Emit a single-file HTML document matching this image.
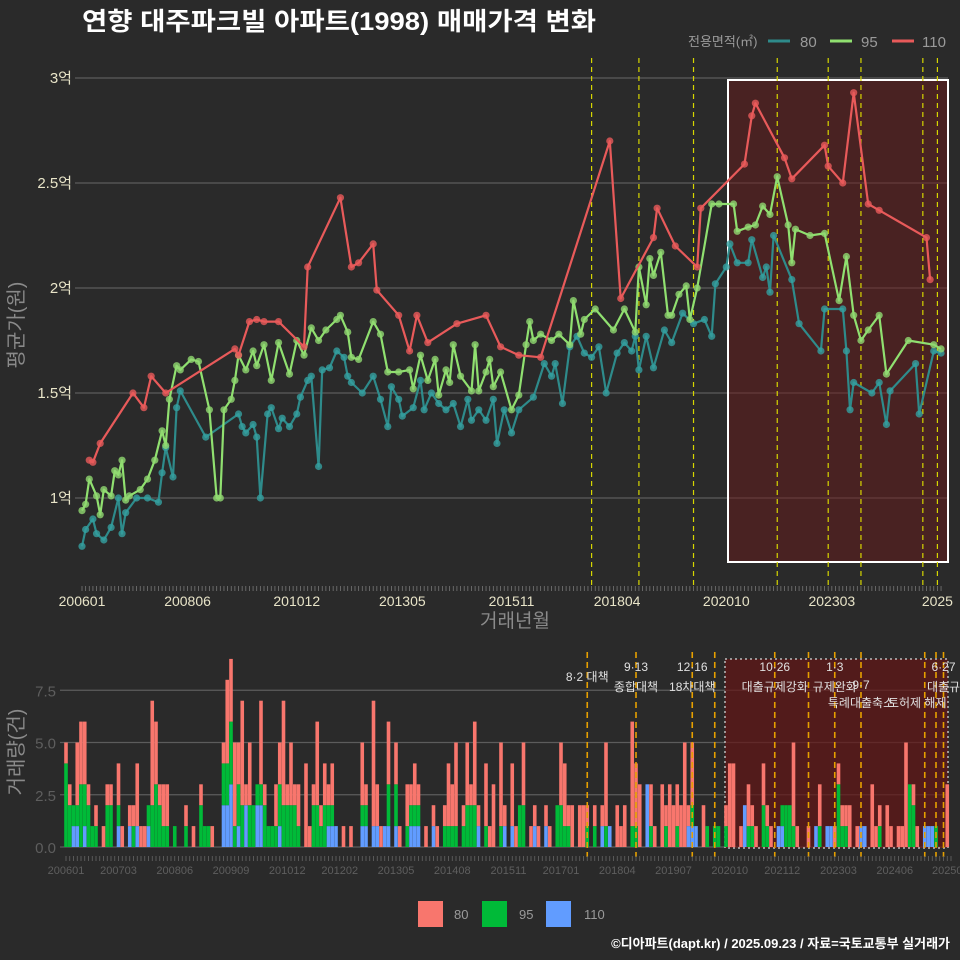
<!DOCTYPE html>
<html><head><meta charset="utf-8"><style>
body{margin:0;background:#2a2a2a;}
svg{display:block;font-family:"Liberation Sans","Noto Sans CJK KR",sans-serif;}
</style></head><body>
<svg id="c" width="960" height="960" viewBox="0 0 960 960">
<rect x="0" y="0" width="960" height="960" fill="#2a2a2a"/>
<text x="82" y="30" fill="#ffffff" font-size="25" font-weight="bold" textLength="514" lengthAdjust="spacingAndGlyphs">연향 대주파크빌 아파트(1998) 매매가격 변화</text>
<g>
<text x="688" y="46" fill="#9a9a9a" font-size="13">전용면적(㎡)</text>
<line x1="768" y1="41" x2="790" y2="41" stroke="#2e8b8b" stroke-width="3"/>
<text x="800" y="47" fill="#9a9a9a" font-size="15">80</text>
<line x1="830" y1="41" x2="852" y2="41" stroke="#90e070" stroke-width="3"/>
<text x="861" y="47" fill="#9a9a9a" font-size="15">95</text>
<line x1="892" y1="41" x2="914" y2="41" stroke="#e85a5a" stroke-width="3"/>
<text x="922" y="47" fill="#9a9a9a" font-size="15">110</text>
</g>
<text transform="translate(23,325) rotate(-90)" text-anchor="middle" fill="#8a8a8a" font-size="20">평균가(원)</text>
<text x="515" y="627" text-anchor="middle" fill="#8a8a8a" font-size="19">거래년월</text>
<text transform="translate(23,752) rotate(-90)" text-anchor="middle" fill="#8a8a8a" font-size="20">거래량(건)</text>
<g>
<rect x="418" y="901" width="25" height="26" fill="#f8766d"/>
<text x="454" y="919" fill="#9a9a9a" font-size="13">80</text>
<rect x="482" y="901" width="25" height="26" fill="#00ba38"/>
<text x="519" y="919" fill="#9a9a9a" font-size="13">95</text>
<rect x="546" y="901" width="25" height="26" fill="#619cff"/>
<text x="584" y="919" fill="#9a9a9a" font-size="13">110</text>
</g>
<text x="950" y="948" text-anchor="end" fill="#ffffff" font-size="13" font-weight="bold">©디아파트(dapt.kr) / 2025.09.23 / 자료=국토교통부 실거래가</text>
<g id="top"></g>
<g id="bot"></g>
</svg>
<script>
// ===== data =====
const priceTicks=[1,1.5,2,2.5,3];
const priceTickLabels=["1억","1.5억","2억","2.5억","3억"];
const volTicks=[0,2.5,5,7.5];
const volTickLabels=["0.0","2.5","5.0","7.5"];
const topXTickMonths=[0,29,59,88,118,147,177,206,235];
const topXTickLabels=["200601","200806","201012","201305","201511","201804","202010","202303","2025"];
const botXTickMonths=[0,14,29,44,59,73,88,103,118,132,147,162,177,191,206,221,235];
const botXTickLabels=["200601","200703","200806","200909","201012","201202","201305","201408","201511","201701","201804","201907","202010","202112","202303","202406","20250"];
const totalMonths=237;
// 80 series
const p80Months=[0,1,3,4,6,8,10,11,12,15,18,21,22,23,25,26,27,34,43,44,45,47,48,49,51,52,54,55,57,59,60,62,63,65,66,68,70,72,73,74,77,80,82,84,85,87,88,91,93,94,96,98,100,102,104,106,107,109,111,113,114,116,118,120,124,127,129,130,132,134,136,138,140,142,144,147,149,151,152,153,155,157,160,162,165,168,171,173,174,177,178,180,183,184,187,188,189,190,195,197,203,204,209,210,211,212,217,219,221,222,229,230,234,236];
const p80Values=[0.77,0.85,0.90,0.83,0.80,0.86,1.00,0.83,0.93,1.00,1.00,0.98,1.12,1.24,1.10,1.43,1.51,1.29,1.40,1.34,1.31,1.35,1.29,1.00,1.40,1.43,1.33,1.38,1.34,1.40,1.48,1.56,1.58,1.15,1.61,1.62,1.70,1.67,1.58,1.55,1.50,1.58,1.47,1.34,1.53,1.47,1.39,1.43,1.56,1.42,1.50,1.45,1.42,1.45,1.34,1.47,1.37,1.42,1.37,1.47,1.26,1.42,1.31,1.42,1.48,1.64,1.58,1.64,1.45,1.72,1.77,1.69,1.67,1.72,1.50,1.69,1.74,1.70,1.77,1.61,1.77,1.62,1.80,1.74,1.88,1.83,1.85,1.77,2.02,2.10,2.21,2.12,2.12,2.23,2.05,2.10,1.98,2.25,2.04,1.83,1.70,1.90,1.90,1.70,1.42,1.55,1.50,1.55,1.35,1.51,1.64,1.40,1.70,1.69];
// 95 series
const p95Months=[0,1,2,4,5,6,8,9,10,11,12,13,16,18,20,22,23,24,26,27,30,32,35,37,38,39,41,42,43,45,47,48,50,52,54,57,59,61,63,65,67,70,71,73,74,76,80,82,84,87,90,91,93,95,97,98,100,101,102,104,107,108,109,111,112,113,115,118,120,122,123,124,126,129,131,134,135,137,138,141,146,149,152,153,155,156,157,159,161,162,164,166,167,169,173,175,179,180,183,185,187,189,191,194,195,196,200,204,208,210,212,214,216,219,221,227,234,236];
const p95Values=[0.94,0.97,1.09,1.01,0.92,1.04,1.01,1.13,1.11,1.18,0.99,1.01,1.04,1.09,1.18,1.32,1.25,1.47,1.63,1.61,1.66,1.65,1.42,1.00,1.00,1.42,1.47,1.56,1.68,1.61,1.70,1.63,1.73,1.56,1.74,1.59,1.75,1.68,1.81,1.75,1.80,1.85,1.87,1.79,1.67,1.66,1.84,1.78,1.60,1.60,1.61,1.52,1.68,1.56,1.66,1.49,1.61,1.55,1.73,1.58,1.51,1.73,1.51,1.60,1.66,1.53,1.60,1.42,1.49,1.73,1.84,1.75,1.78,1.75,1.78,1.73,1.94,1.78,1.85,1.90,1.80,1.90,1.79,2.10,1.92,2.14,2.06,2.17,1.87,1.87,1.97,2.01,1.85,2.00,2.40,2.40,2.40,2.27,2.29,2.30,2.39,2.35,2.53,2.30,2.12,2.28,2.25,2.26,1.94,2.15,1.87,1.75,1.80,1.87,1.59,1.75,1.73,1.71];
// 110 series
const p110Months=[2,3,5,14,17,19,23,42,43,46,48,50,54,61,62,71,74,76,80,81,87,90,92,95,103,111,115,120,126,145,148,157,158,163,169,170,182,184,185,193,195,204,205,209,212,216,219,232,233];
const p110Values=[1.18,1.17,1.26,1.50,1.43,1.58,1.50,1.71,1.68,1.84,1.85,1.84,1.84,1.72,2.10,2.43,2.10,2.12,2.21,1.99,1.87,1.70,1.87,1.74,1.83,1.87,1.72,1.68,1.67,2.70,1.95,2.24,2.38,2.20,2.10,2.38,2.59,2.82,2.88,2.62,2.52,2.68,2.58,2.50,2.93,2.40,2.37,2.24,2.04];
// volumes
const volMonths=[0,1,2,3,4,5,6,7,8,10,11,12,14,15,17,18,19,20,21,22,23,24,25,26,27,29,32,34,36,37,38,39,42,43,44,45,46,47,48,49,50,51,52,53,54,55,56,57,58,59,60,61,62,64,65,66,67,68,69,70,71,72,74,76,79,80,82,83,84,85,86,88,89,91,92,93,94,96,98,99,101,102,103,104,106,107,108,109,110,112,113,114,116,117,119,120,121,122,124,125,126,128,129,131,132,133,134,135,137,138,139,141,143,144,145,147,148,149,151,152,153,155,156,157,159,160,161,162,163,164,165,166,167,168,170,171,173,174,176,177,178,180,181,182,183,184,186,187,188,190,191,192,193,194,195,198,200,201,203,204,205,206,207,208,209,211,212,213,215,216,217,219,220,222,223,224,225,226,227,229,230,231,232,235];
const vol80=[1,1,0,3,3,3,1,0,1,1,1,1,2,1,1,1,3,1,1,0,5,3,1,2,2,0,1,1,1,0,0,1,1,4,3,4,2,5,1,3,0,0,4,1,0,0,2,2,5,1,3,1,2,4,1,1,4,1,2,1,2,0,1,1,3,1,6,2,1,0,3,2,1,2,1,2,1,1,1,1,1,3,2,4,1,3,1,4,1,3,1,3,4,1,3,1,0,3,1,1,1,1,1,0,3,3,1,2,2,2,1,1,1,4,0,2,1,2,5,3,3,0,2,1,3,1,3,2,2,2,5,1,3,0,2,0,0,0,1,4,4,1,0,2,1,1,2,1,1,0,0,0,0,4,1,1,0,2,0,0,1,1,1,1,2,1,0,0,3,1,1,2,1,1,1,5,0,1,1,0,0,0,0,3];
const vol95=[4,2,1,1,3,2,2,1,1,0,2,2,1,0,0,1,0,0,0,1,2,3,2,1,1,1,1,0,2,1,1,0,2,2,3,1,2,2,0,2,2,1,1,2,1,1,1,2,2,2,2,2,1,0,0,2,2,1,2,1,1,0,0,0,1,1,0,0,0,0,2,2,0,1,1,1,1,0,0,0,1,1,1,1,1,2,2,2,0,1,0,0,1,0,0,0,2,2,0,0,0,0,0,2,2,1,1,0,0,0,1,1,0,1,0,0,0,0,1,1,0,0,1,0,0,1,0,0,1,0,0,0,1,0,0,1,1,1,1,0,0,0,0,1,1,0,2,1,0,0,1,2,2,1,0,0,0,1,0,0,0,3,1,1,0,0,0,0,0,0,1,0,0,0,0,0,3,2,0,0,0,0,1,0];
const vol110=[0,0,1,1,0,1,0,0,0,0,0,0,1,0,1,0,1,0,0,1,0,0,0,0,0,0,0,0,0,0,0,0,2,2,3,0,1,0,2,0,0,2,2,0,0,0,0,1,0,0,0,0,0,0,0,0,0,0,0,1,1,1,0,0,1,1,1,1,0,1,1,1,0,0,1,1,1,0,1,0,0,0,0,0,0,0,0,0,1,0,0,0,0,1,1,0,0,0,0,1,0,1,0,0,0,0,0,0,0,0,0,0,1,0,1,0,0,0,0,0,0,3,0,0,0,0,0,0,0,0,0,1,1,1,0,0,0,0,0,0,0,0,2,0,0,0,0,0,0,1,1,0,0,0,0,0,1,0,1,1,0,0,0,0,0,0,1,1,0,0,0,0,0,0,0,0,0,0,0,1,1,1,0,0];
const topPolicyMonths=[140,153,168,191,205,214,231,235];
const botPolicyMonths=[139,152,167,173,189,198,205,212,229,232,234];
const policyLabels=[[139,"8·2 대책",0,681],[152,"9·13",0,671],[152,"종합대책",0,691],[167,"12·16",0,671],[167,"18차대책",0,691],[189,"10·26",0,671],[189,"대출규제강화",0,691],[205,"1·3",0,671],[205,"규제완화",0,691],[212,"9·7",0,689],[212,"특례대출축소",0,707],[227,"토허제 해제",0,707],[234,"6·27",0,671],[234,"대출규",0,691]];

// ===== scales =====
const NS="http://www.w3.org/2000/svg";
const xT=m=>82+m*3.64, yT=v=>498-(v-1)*210;
const xB=m=>66+m*3.75, yB=c=>847-c*20.9;
const gT=document.getElementById('top'), gB=document.getElementById('bot');
function mk(tag,parent,attrs){const e=document.createElementNS(NS,tag);for(const k in attrs)e.setAttribute(k,attrs[k]);parent.appendChild(e);return e;}

priceTicks.forEach((v,i)=>{
 const g=mk('line',gT,{x1:75,x2:948,y1:yT(v),y2:yT(v),stroke:'#5c5c5c','stroke-width':1.2});
 
 
 const t=mk('text',gT,{x:72,y:yT(v)+5,'text-anchor':'end',fill:'#e8e4c8','font-size':15});
 t.textContent=priceTickLabels[i];
 
 
});
const hr=mk('rect',gT,{x:728,y:80,width:220,height:482,fill:'rgba(110,25,25,0.45)',stroke:'#ffffff','stroke-width':2});


topPolicyMonths.forEach(m=>{
 const l=mk('line',gT,{x1:xT(m),x2:xT(m),y1:58,y2:586,stroke:'#d6d600','stroke-width':1.2,'stroke-dasharray':'5,4'});
 
 
});
for(let m=0;m<totalMonths;m++){
 const tk=mk('line',gT,{x1:xT(m),x2:xT(m),y1:586,y2:591,stroke:'#777','stroke-width':0.8});
 
 
}
topXTickMonths.forEach((m,i)=>{
 const t=mk('text',gT,{x:xT(m),y:606,'text-anchor':'middle',fill:'#e8e4c8','font-size':14});
 t.textContent=topXTickLabels[i];
 
 
});
function series(months,vals,lineCol,ptCol,name){
 const d=months.map((m,i)=>(i?'L':'M')+xT(m).toFixed(1)+','+yT(vals[i]).toFixed(1)).join('');
 const p=mk('path',gT,{d:d,fill:'none',stroke:lineCol,'stroke-width':2.2,'stroke-linejoin':'round'});
 
 
 months.forEach((m,i)=>{
  const c=mk('circle',gT,{cx:xT(m),cy:yT(vals[i]),r:3.6,fill:ptCol,'fill-opacity':0.8});
  
  
 });
}
series(p80Months,p80Values,'#2e8b8b','#35a0a0','80');
series(p95Months,p95Values,'#90e070','#90d870','95');
series(p110Months,p110Values,'#e85a5a','#e85a5a','110');

volTicks.forEach((v,i)=>{
 const g=mk('line',gB,{x1:60,x2:948,y1:yB(v),y2:yB(v),stroke:'#5c5c5c','stroke-width':1.2});
 
 
 const t=mk('text',gB,{x:56,y:yB(v)+6,'text-anchor':'end',fill:'#5e5e5e','font-size':15});
 t.textContent=volTickLabels[i];
 
 
});
const br=mk('rect',gB,{x:725,y:659,width:223,height:189,fill:'rgba(100,22,22,0.7)',stroke:'#bbbbbb','stroke-width':1.5,'stroke-dasharray':'2,3'});


volMonths.forEach((m,i)=>{
 const x=xB(m)-1.8; let base=0;
 [[vol110[i],'#619cff','110'],[vol95[i],'#00ba38','95'],[vol80[i],'#f8766d','80']].forEach(s=>{
  if(s[0]>0){
   const r=mk('rect',gB,{x:x,y:yB(base+s[0]),width:3.6,height:yB(base)-yB(base+s[0]),fill:s[1]});
   
   
   base+=s[0];
  }
 });
});
botPolicyMonths.forEach(m=>{
 const l=mk('line',gB,{x1:xB(m),x2:xB(m),y1:652,y2:857,stroke:'#e6a000','stroke-width':1.6,'stroke-dasharray':'6,4'});
 
 
});
policyLabels.forEach(p=>{
 const t=mk('text',gB,{x:xB(p[0]),y:p[3],'text-anchor':'middle',fill:'#e0e0e0','font-size':12});
 t.textContent=p[1];
 
 
});
for(let m=0;m<totalMonths;m++){
 const tk=mk('line',gB,{x1:xB(m),x2:xB(m),y1:856,y2:861,stroke:'#666','stroke-width':0.8});
 
 
}
botXTickMonths.forEach((m,i)=>{
 const t=mk('text',gB,{x:xB(m),y:874,'text-anchor':'middle',fill:'#5e5e5e','font-size':11});
 t.textContent=botXTickLabels[i];
 
 
});
</script>
</body></html>
